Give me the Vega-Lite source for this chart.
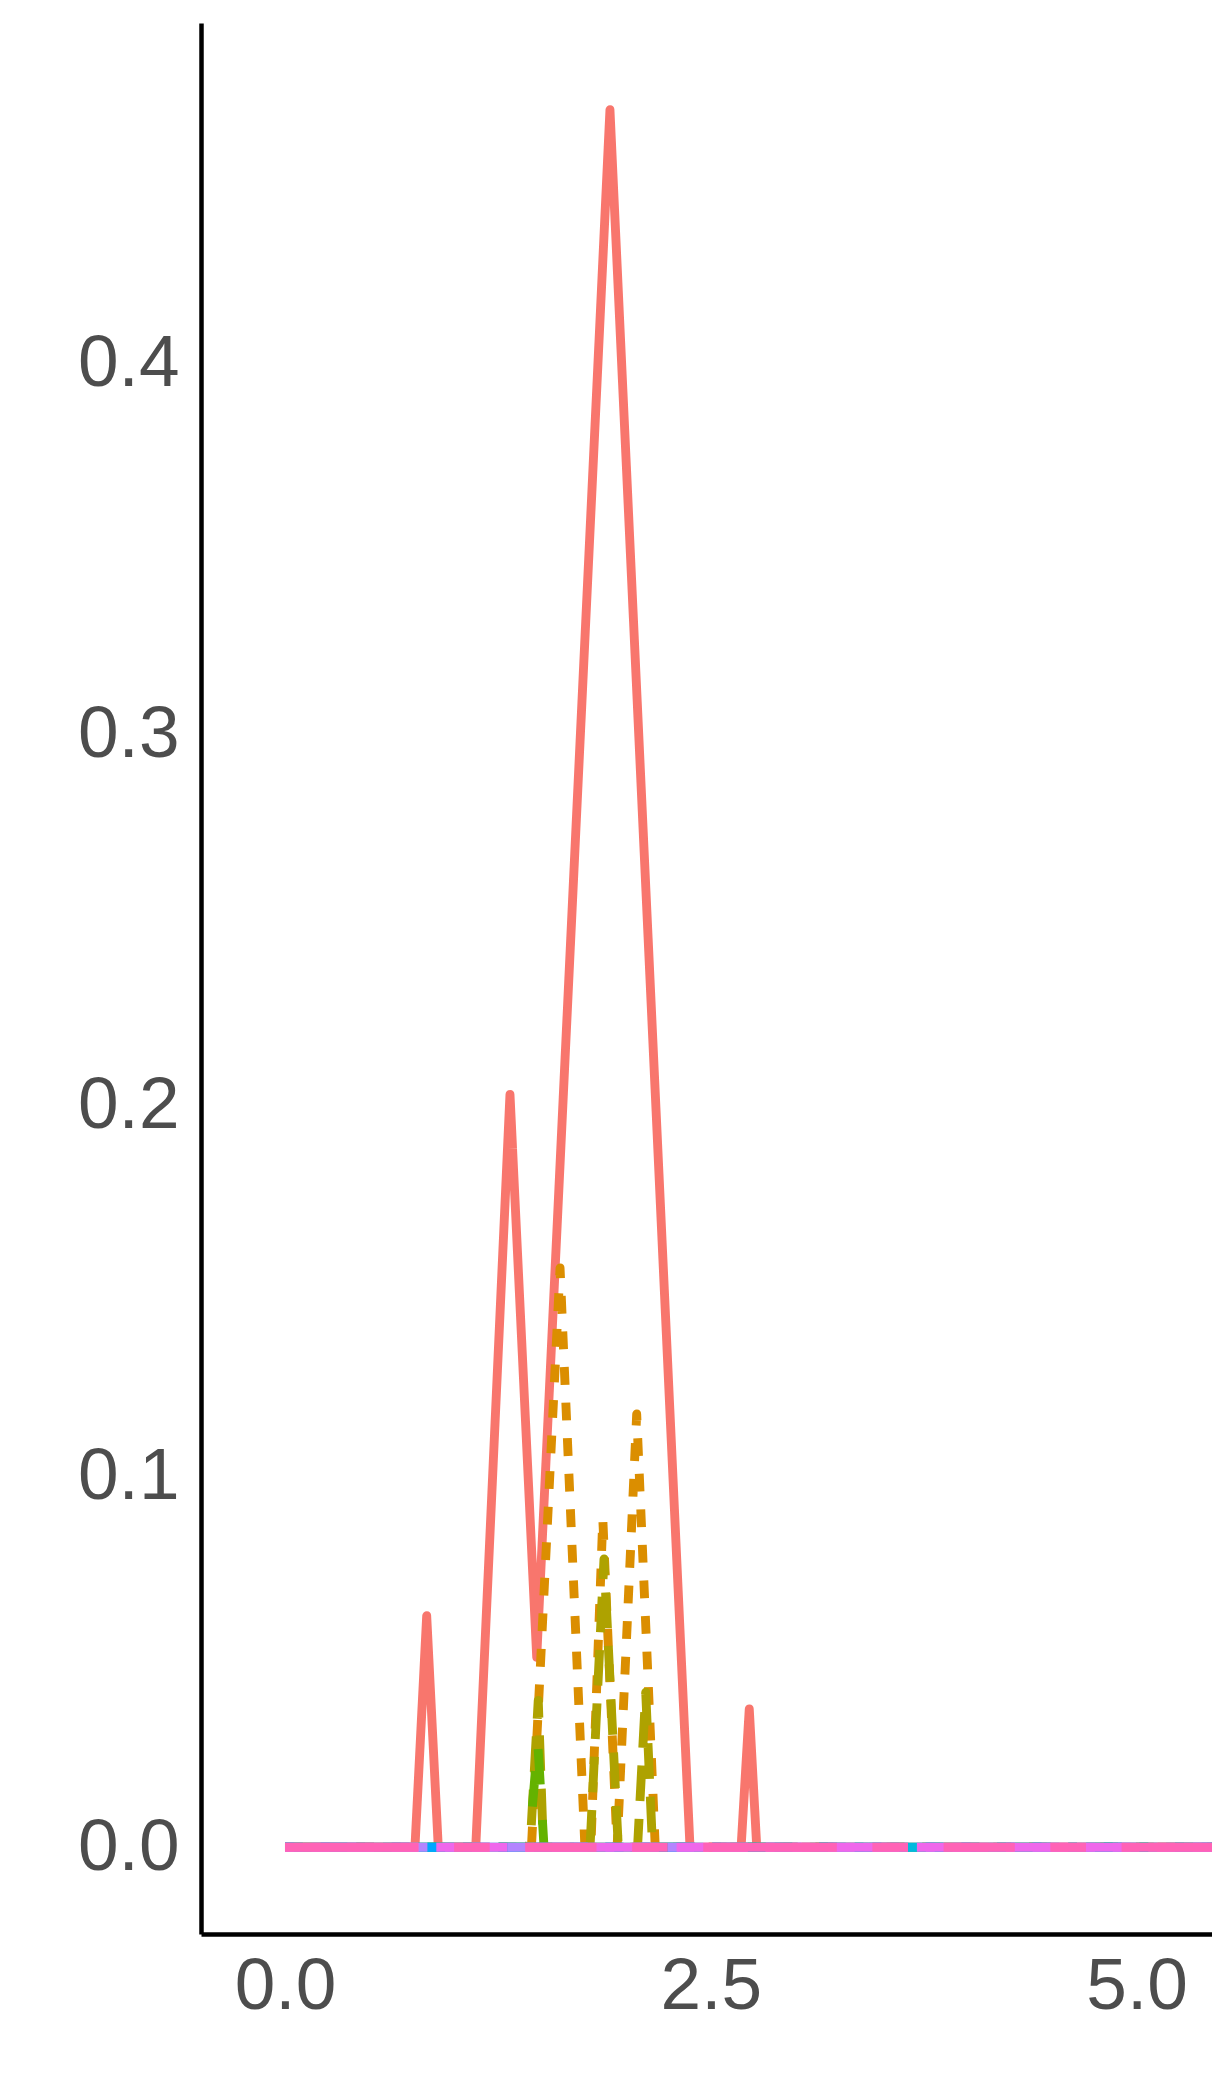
{
  "$schema": "https://vega.github.io/schema/vega-lite/v6.json",
  "width": 1011,
  "height": 1911,
  "autosize": {"type": "none"},
  "padding": {"left": 201, "top": 23, "right": 0, "bottom": 165},
  "background": "white",
  "config": {
    "view": {"stroke": null},
    "axis": {
      "grid": false,
      "ticks": false,
      "domainColor": "black",
      "domainWidth": 4.5,
      "labelFont": "Liberation Sans",
      "labelFontSize": 73,
      "labelColor": "#4D4D4D",
      "title": null
    }
  },
  "data": {
    "values": [
      {"series": "1", "x": 0, "y": 0},
      {"series": "1", "x": 0.763, "y": 0},
      {"series": "1", "x": 0.832, "y": 0.0624},
      {"series": "1", "x": 0.9, "y": 0},
      {"series": "1", "x": 1.12, "y": 0},
      {"series": "1", "x": 1.321, "y": 0.203},
      {"series": "1", "x": 1.478, "y": 0.0512},
      {"series": "1", "x": 1.908, "y": 0.4685},
      {"series": "1", "x": 2.378, "y": 0},
      {"series": "1", "x": 2.678, "y": 0},
      {"series": "1", "x": 2.726, "y": 0.0373},
      {"series": "1", "x": 2.77, "y": 0},
      {"series": "1", "x": 9.864, "y": 0},

      {"series": "2", "x": 0, "y": 0},
      {"series": "2", "x": 1.447, "y": 0},
      {"series": "2", "x": 1.615, "y": 0.1562},
      {"series": "2", "x": 1.761, "y": 0},
      {"series": "2", "x": 1.796, "y": 0},
      {"series": "2", "x": 1.866, "y": 0.0886},
      {"series": "2", "x": 1.95, "y": 0},
      {"series": "2", "x": 2.065, "y": 0.1168},
      {"series": "2", "x": 2.174, "y": 0},
      {"series": "2", "x": 9.864, "y": 0},

      {"series": "3", "x": 0, "y": 0},
      {"series": "3", "x": 1.439, "y": 0},
      {"series": "3", "x": 1.487, "y": 0.0396},
      {"series": "3", "x": 1.517, "y": 0},
      {"series": "3", "x": 1.791, "y": 0},
      {"series": "3", "x": 1.873, "y": 0.0777},
      {"series": "3", "x": 1.957, "y": 0},
      {"series": "3", "x": 2.07, "y": 0},
      {"series": "3", "x": 2.118, "y": 0.0418},
      {"series": "3", "x": 2.158, "y": 0},
      {"series": "3", "x": 9.864, "y": 0},

      {"series": "4", "x": 0, "y": 0},
      {"series": "4", "x": 1.433, "y": 0},
      {"series": "4", "x": 1.484, "y": 0.0283},
      {"series": "4", "x": 1.521, "y": 0},
      {"series": "4", "x": 9.864, "y": 0},

      {"series": "5", "x": 0, "y": 0},
      {"series": "5", "x": 9.864, "y": 0},
      {"series": "6", "x": 0, "y": 0},
      {"series": "6", "x": 9.864, "y": 0},
      {"series": "7", "x": 0, "y": 0},
      {"series": "7", "x": 9.864, "y": 0},
      {"series": "8", "x": 0, "y": 0},
      {"series": "8", "x": 9.864, "y": 0},
      {"series": "9", "x": 0, "y": 0},
      {"series": "9", "x": 9.864, "y": 0},
      {"series": "10", "x": 0, "y": 0},
      {"series": "10", "x": 9.864, "y": 0},
      {"series": "11", "x": 0, "y": 0},
      {"series": "11", "x": 9.864, "y": 0}
    ]
  },
  "mark": {"type": "line", "clip": true, "strokeWidth": 8.9, "strokeJoin": "round", "strokeCap": "butt"},
  "encoding": {
    "x": {
      "field": "x",
      "type": "quantitative",
      "scale": {"domain": [-0.4932, 5.443], "nice": false, "zero": false},
      "axis": {"values": [0, 2.5, 5], "format": ".1f", "labelPadding": 16, "title": null}
    },
    "y": {
      "field": "y",
      "type": "quantitative",
      "scale": {"domain": [-0.0234, 0.4919], "nice": false, "zero": false},
      "axis": {"values": [0, 0.1, 0.2, 0.3, 0.4], "format": ".1f", "labelPadding": 22, "title": null}
    },
    "color": {
      "field": "series",
      "type": "nominal",
      "scale": {
        "domain": ["1", "2", "3", "4", "5", "6", "7", "8", "9", "10", "11"],
        "range": ["#F8766D", "#DB8E00", "#AEA200", "#64B200", "#00BD5C", "#00C1A7", "#00BADE", "#00A6FF", "#B385FF", "#EF67EB", "#FF63B6"]
      },
      "legend": null
    },
    "strokeDash": {
      "field": "series",
      "type": "nominal",
      "scale": {
        "domain": ["1", "2", "3", "4", "5", "6", "7", "8", "9", "10", "11"],
        "range": [
          [1, 0],
          [17.8, 17.8],
          [35.6, 17.8],
          [35.6, 35.6],
          [8.9, 26.7],
          [8.9, 26.7, 35.6, 26.7],
          [62.3, 26.7],
          [17.8, 17.8, 53.4, 17.8],
          [8.9, 17.8, 17.8, 17.8, 26.7, 17.8, 35.6, 17.8],
          [133.5, 17.8, 71.2, 17.8],
          [133.5, 35.6, 35.6, 35.6, 71.2, 35.6, 35.6, 35.6]
        ]
      },
      "legend": null
    }
  }
}
